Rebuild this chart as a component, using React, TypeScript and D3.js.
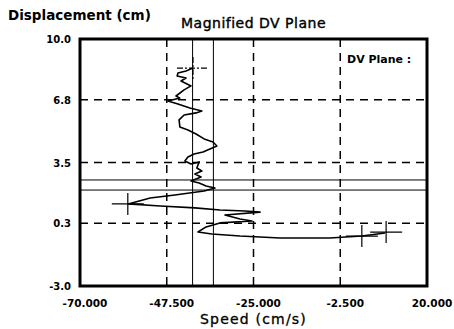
import React, { useRef, useEffect } from 'react';
import * as d3 from 'd3';

// axis ticks
const xTicks = [-70, -47.5, -25, -2.5, 20];
const xTickLabels = ['-70.000', '-47.500', '-25.000', '-2.500', '20.000'];
const yTicks = [10, 6.8, 3.5, 0.3, -3];
const yTickLabels = ['10.0', '6.8', '3.5', '0.3', '-3.0'];

// dashed grid positions
const gridX = [-47.5, -25, -2.5];
const gridY = [6.8, 3.5, 0.3];

// solid reference lines
const refSpeeds = [-40.8, -35.4];
const refDisps = [2.58, 2.05];

// DV trace (speed cm/s, displacement cm)
const traceSpeed = [
  -40.7, -42.5, -44.6, -44.8, -42.5, -43.8, -41.2, -43.0, -45.1, -44.1, -47.2, -44.6, -41.5, -38.4, -39.9,
  -43.0, -44.3, -44.1, -42.0, -39.9, -37.8, -35.5, -34.5, -36.3, -38.1, -40.4, -42.0, -42.8, -41.2, -39.1,
  -39.7, -38.4, -40.2, -38.6, -41.2, -39.1, -37.3, -35.0, -37.8, -45.4, -51.8, -57.5, -49.2, -40.2, -33.7,
  -27.2, -23.3, -32.4, -28.5, -25.4, -33.7, -37.3, -39.4, -35.8, -28.5, -18.1, -5.2, 3.1, 9.1,
];
const traceDisp = [
  8.47, 8.32, 8.21, 8.05, 7.95, 7.79, 7.53, 7.32, 7.0, 6.89, 6.74, 6.58, 6.37, 6.21, 6.11,
  6.0, 5.74, 5.37, 5.21, 5.0, 4.74, 4.58, 4.37, 4.21, 4.05, 3.95, 3.79, 3.58, 3.42, 3.53,
  3.21, 3.05, 2.89, 2.74, 2.53, 2.42, 2.26, 2.16, 2.0, 1.79, 1.63, 1.32, 1.21, 1.11, 1.0,
  0.95, 0.89, 0.74, 0.53, 0.42, 0.32, 0.11, -0.16, -0.26, -0.37, -0.47, -0.47, -0.37, -0.21,
];

// cross markers
const markerSpeed = [-40.7, -57.6, 3.1, 9.4];
const markerDisp = [8.47, 1.32, -0.37, -0.16];
const markerDashed = [true, false, false, false];

const App = () => {
  const svgRef = useRef<SVGSVGElement>(null);
  const width = 454;
  const height = 329;
  const margin = { top: 39, right: 27, bottom: 43, left: 80 };

  useEffect(() => {
    const svg = d3.select(svgRef.current);
    svg.selectAll('*').remove();

    const x = d3.scaleLinear().domain([-70, 20]).range([margin.left, width - margin.right]);
    const y = d3.scaleLinear().domain([-3, 10]).range([height - margin.bottom, margin.top]);
    const font = "'DejaVu Sans', Verdana, sans-serif";

    svg.append('rect').attr('width', width).attr('height', height).attr('fill', '#fff');

    // dashed grid
    svg.selectAll('.gx')
      .data(gridX)
      .enter()
      .append('line')
      .attr('x1', d => x(d)).attr('x2', d => x(d))
      .attr('y1', y(10)).attr('y2', y(-3))
      .attr('stroke', '#000').attr('stroke-width', 1.5)
      .attr('stroke-dasharray', '8,6');
    svg.selectAll('.gy')
      .data(gridY)
      .enter()
      .append('line')
      .attr('x1', x(-70)).attr('x2', x(20))
      .attr('y1', d => y(d)).attr('y2', d => y(d))
      .attr('stroke', '#000').attr('stroke-width', 1.5)
      .attr('stroke-dasharray', '8,6');

    // solid reference lines
    svg.selectAll('.rx')
      .data(refSpeeds)
      .enter()
      .append('line')
      .attr('x1', d => x(d)).attr('x2', d => x(d))
      .attr('y1', y(10)).attr('y2', y(-3))
      .attr('stroke', '#000').attr('stroke-width', 1);
    svg.selectAll('.ry')
      .data(refDisps)
      .enter()
      .append('line')
      .attr('x1', x(-70)).attr('x2', x(20))
      .attr('y1', d => y(d)).attr('y2', d => y(d))
      .attr('stroke', '#000').attr('stroke-width', 1);

    // trace
    const pts = traceSpeed.map((s, i) => [s, traceDisp[i]] as [number, number]);
    const line = d3.line<[number, number]>().x(d => x(d[0])).y(d => y(d[1]));
    svg.append('path')
      .attr('d', line(pts))
      .attr('fill', 'none')
      .attr('stroke', '#000')
      .attr('stroke-width', 1.6)
      .attr('stroke-linejoin', 'round');

    // cross markers
    markerSpeed.forEach((s, i) => {
      const cx = x(s);
      const cy = y(markerDisp[i]);
      const g = svg.append('g')
        .attr('stroke', '#000')
        .attr('stroke-width', 1.2)
        .attr('stroke-dasharray', markerDashed[i] ? '6,2,2,2' : null);
      g.append('line').attr('x1', cx - 16).attr('x2', cx + 16).attr('y1', cy).attr('y2', cy);
      g.append('line').attr('x1', cx).attr('x2', cx).attr('y1', cy - 11).attr('y2', cy + 11);
    });

    // frame
    svg.append('rect')
      .attr('x', x(-70)).attr('y', y(10))
      .attr('width', x(20) - x(-70)).attr('height', y(-3) - y(10))
      .attr('fill', 'none').attr('stroke', '#000').attr('stroke-width', 3);

    // tick labels
    svg.selectAll('.xl')
      .data(xTicks)
      .enter()
      .append('text')
      .attr('x', d => x(d) + 5)
      .attr('y', height - margin.bottom + 21)
      .attr('text-anchor', 'middle')
      .attr('font-family', font).attr('font-size', 10.5).attr('font-weight', 'bold')
      .text((d, i) => xTickLabels[i]);
    svg.selectAll('.yl')
      .data(yTicks)
      .enter()
      .append('text')
      .attr('x', 71)
      .attr('y', d => y(d) + 4)
      .attr('text-anchor', 'end')
      .attr('font-family', font).attr('font-size', 10).attr('font-weight', 'bold')
      .text((d, i) => yTickLabels[i]);

    // titles
    svg.append('text')
      .attr('x', 8).attr('y', 20)
      .attr('font-family', font).attr('font-size', 13.5).attr('font-weight', 'bold')
      .text('Displacement (cm)');
    svg.append('text')
      .attr('x', (x(-70) + x(20)) / 2).attr('y', 28)
      .attr('text-anchor', 'middle')
      .attr('font-family', font).attr('font-size', 14)
      .attr('letter-spacing', 0.5)
      .attr('stroke', '#000').attr('stroke-width', 0.4)
      .text('Magnified DV Plane');
    svg.append('text')
      .attr('x', (x(-70) + x(20)) / 2).attr('y', 324)
      .attr('text-anchor', 'middle')
      .attr('font-family', font).attr('font-size', 14)
      .attr('letter-spacing', 1.2)
      .attr('stroke', '#000').attr('stroke-width', 0.3)
      .text('Speed (cm/s)');
    svg.append('text')
      .attr('x', 347).attr('y', 63)
      .attr('font-family', font).attr('font-size', 11).attr('font-weight', 'bold')
      .text('DV Plane :');
  }, []);

  return (
    <svg ref={svgRef} width={width} height={height}
      style={{ position: 'absolute', left: 0, top: 0, display: 'block' }} />
  );
};

export default App;
